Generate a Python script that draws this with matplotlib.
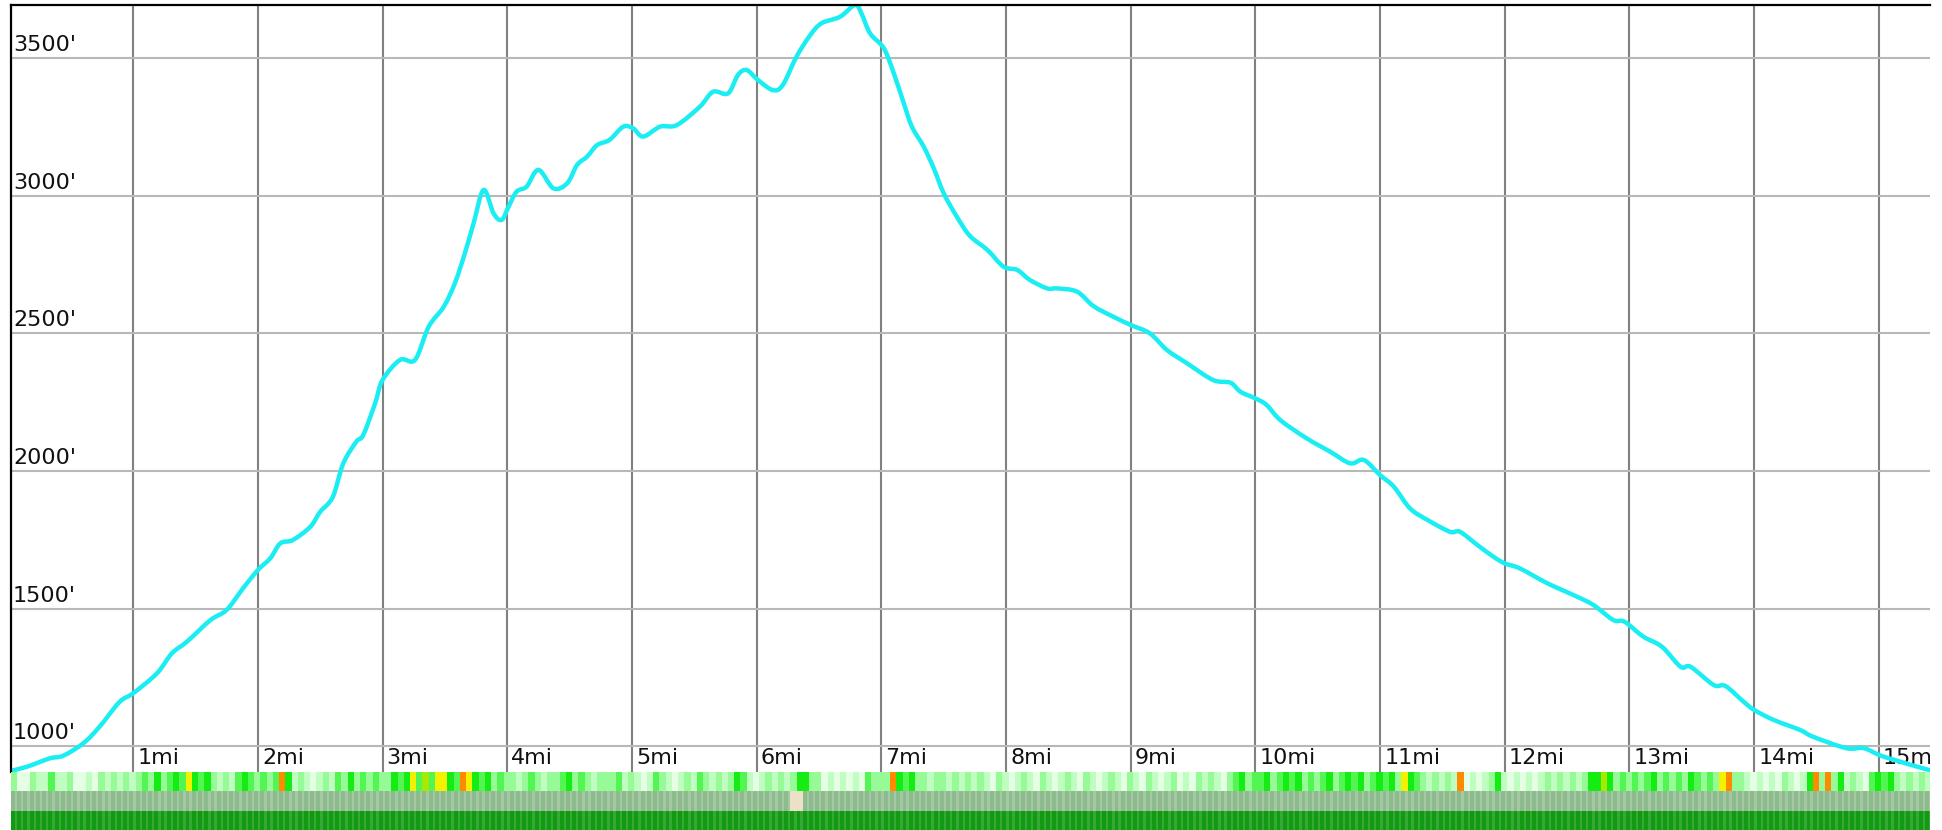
import numpy as np
import matplotlib
matplotlib.use("Agg")
import matplotlib.pyplot as plt
from matplotlib import transforms
from matplotlib.path import Path
from matplotlib.patches import PathPatch

# ---------------- data ----------------
miles = [0.02, 0.15, 0.33, 0.44, 0.60, 0.73, 0.89, 1.00, 1.19, 1.31, 1.43, 1.62, 1.75, 1.88,
         2.00, 2.10, 2.18, 2.28, 2.42, 2.50, 2.60, 2.685, 2.79, 2.845, 2.94, 3.00, 3.14, 3.26,
         3.37, 3.49, 3.58, 3.66, 3.73, 3.81, 3.89, 3.955, 4.01, 4.075, 4.155, 4.25, 4.37, 4.48,
         4.56, 4.64, 4.72, 4.82, 4.93, 5.01, 5.09, 5.225, 5.36, 5.545, 5.65, 5.77, 5.85, 5.92,
         6.01, 6.13, 6.21, 6.32, 6.43, 6.52, 6.67, 6.79, 6.84, 6.91, 7.02, 7.10, 7.18, 7.245,
         7.34, 7.42, 7.50, 7.605, 7.71, 7.85, 7.98, 8.09, 8.19, 8.33, 8.41, 8.57, 8.70, 8.86,
         9.00, 9.155, 9.29, 9.45, 9.66, 9.80, 9.88, 10.00, 10.09, 10.20, 10.41, 10.60, 10.76,
         10.87, 11.00, 11.11, 11.24, 11.38, 11.56, 11.64, 11.78, 11.91, 12.00, 12.12, 12.34,
         12.55, 12.71, 12.87, 12.96, 13.11, 13.26, 13.41, 13.49, 13.675, 13.77, 13.915, 14.00,
         14.155, 14.37, 14.47, 14.74, 14.88, 15.04, 15.40]
elev_ft = [910, 925, 955, 965, 1010, 1070, 1160, 1192, 1264, 1337, 1379, 1458, 1495, 1573,
           1640, 1683, 1737, 1749, 1797, 1852, 1905, 2028, 2107, 2131, 2246, 2331, 2404, 2404,
           2525, 2597, 2683, 2792, 2901, 3022, 2937, 2913, 2961, 3016, 3034, 3095, 3028, 3046,
           3113, 3143, 3185, 3204, 3252, 3246, 3216, 3252, 3258, 3325, 3379, 3373, 3440, 3458,
           3422, 3385, 3404, 3507, 3585, 3628, 3652, 3695, 3664, 3591, 3537, 3446, 3337, 3252,
           3179, 3101, 3010, 2925, 2855, 2804, 2743, 2731, 2695, 2664, 2664, 2652, 2600, 2561,
           2531, 2500, 2440, 2392, 2331, 2321, 2288, 2264, 2240, 2185, 2119, 2070, 2028,
           2040, 1985, 1943, 1864, 1822, 1779, 1779, 1731, 1688, 1664, 1646, 1592,
           1549, 1513, 1458, 1452, 1398, 1361, 1288, 1288, 1222, 1218, 1161, 1131,
           1095, 1058, 1034, 992, 992, 961, 913]

x_ticks = list(range(1, 16))
x_tick_labels = [f"{m}mi" for m in x_ticks]
y_ticks = [1000, 1500, 2000, 2500, 3000, 3500]
y_tick_labels = [f"{v}'" for v in y_ticks]

# colour-strip data: one code per 0.05 mi segment, one string per mile
seg_mi = 0.05
strip_start_mi = 0.02
row1_codes = [
    "lwwlppgpplwwpwlplplp",
    "lglGlgGgyGgGlplpgGgl",
    "glgoGplpwplpglGlglgl",
    "lGgGygcgyyGgoyGgGlgl",
    "lplglpllgGlglplllgpl",
    "pwpglpwplpglplplGgpw",
    "plplplGGllwpwpwpwgll",
    "loGgGllpllplplplpwlp",
    "wplpwlpwplpwlpwplpwl",
    "pwlpwplwpwlplpwlgGlg",
    "gGlgGgGlglgGlgGgGlgG",
    "gGlyGglplplpowpwplGp",
    "wpwpwplplplplGGcGlgl",
    "glgGlglglGglglyollpw",
    "pwpwlpwpGololGplpwgG",
    "gGlplplp",
]
row2_codes = "m" * 125 + "bb" + "m" * 181
row3_codes = "d" * 308

code_colors = {
    "w": "#e4ffe4", "p": "#c0fdc0", "l": "#96fa96", "g": "#52f552", "G": "#14ec14",
    "c": "#a6ea00", "y": "#f2f200", "o": "#ff8a00",
    "m": "#8dbb8d", "b": "#ebe1c6", "d": "#139a13",
}
seam_colors = {"row2": "#a3c8a3", "row3": "#36a836"}

# ---------------- figure ----------------
W, H = 1942, 830
fig = plt.figure(figsize=(W / 100, H / 100), dpi=100)
fig.patch.set_facecolor("white")

L_px, R_px, T_px, B_px = 11, 1930, 5, 772
ax = fig.add_axes([L_px / W, (H - B_px) / H, (R_px - L_px) / W, (B_px - T_px) / H])
ax.set_xlim(0.02, 15.41)
ax.set_ylim(905.5, 3694.5)
ax.set_xticks([])
ax.set_yticks([])
for s in ("right", "bottom"):
    ax.spines[s].set_visible(False)
for s in ("left", "top"):
    ax.spines[s].set_color("black")
    ax.spines[s].set_linewidth(1.6)
    ax.spines[s].set_zorder(5)

for t in x_ticks:
    ax.axvline(t, color="#808080", lw=1.5, zorder=1)
for v in y_ticks:
    ax.axhline(v, color="#b8b8b8", lw=1.5, zorder=1)

fs = 16
xlab_tr = transforms.offset_copy(ax.transData, fig=fig, x=4, y=8, units="dots")
for t, lab in zip(x_ticks, x_tick_labels):
    ax.text(t, 905.5, lab, transform=xlab_tr, fontsize=fs, color="#111111",
            ha="left", va="baseline", clip_on=True, zorder=3)
ylab_base = transforms.blended_transform_factory(ax.transAxes, ax.transData)
ylab_tr = transforms.offset_copy(ylab_base, fig=fig, x=2, y=7, units="dots")
for v, lab in zip(y_ticks, y_tick_labels):
    ax.text(0, v, lab, transform=ylab_tr, fontsize=fs, color="#111111",
            ha="left", va="baseline", clip_on=True, zorder=3)

# smooth curve through the read points (Catmull-Rom drawn as cubic Bezier)
xs = np.asarray(miles, float)
ys = np.asarray(elev_ft, float)
verts = [(xs[0], ys[0])]
codes = [Path.MOVETO]
n = len(xs)
for i in range(n - 1):
    p0 = np.array([xs[max(i - 1, 0)], ys[max(i - 1, 0)]])
    p1 = np.array([xs[i], ys[i]])
    p2 = np.array([xs[i + 1], ys[i + 1]])
    p3 = np.array([xs[min(i + 2, n - 1)], ys[min(i + 2, n - 1)]])
    c1 = p1 + (p2 - p0) / 6.0
    c2 = p2 - (p3 - p1) / 6.0
    verts += [tuple(c1), tuple(c2), tuple(p2)]
    codes += [Path.CURVE4] * 3
ax.add_patch(PathPatch(Path(verts, codes), fill=False, edgecolor="#1aeef2", lw=3.2,
                       joinstyle="round", capstyle="round", zorder=4))

# ---------------- strip ----------------
sx = fig.add_axes([L_px / W, 0, (R_px - L_px) / W, (H - B_px) / H])
sx.set_xlim(0.02, 15.41)
sx.set_ylim(0, 3)
sx.axis("off")

row1 = "".join(row1_codes)
nseg = len(row1)
seg_left = strip_start_mi + seg_mi * np.arange(nseg)

sx.bar(seg_left, 1, width=seg_mi, bottom=2, color=[code_colors[c] for c in row1],
       align="edge", linewidth=0)
# rows 2 and 3: segment blocks with a light seam between them
sx.bar(strip_start_mi, 1, width=seg_mi * nseg, bottom=1, color=seam_colors["row2"],
       align="edge", linewidth=0)
sx.bar(seg_left, 1, width=[seg_mi if c != "m" else seg_mi * 0.62 for c in row2_codes],
       bottom=1, color=[code_colors[c] for c in row2_codes], align="edge", linewidth=0)
sx.bar(strip_start_mi, 1, width=seg_mi * nseg, bottom=0, color=seam_colors["row3"],
       align="edge", linewidth=0)
sx.bar(seg_left, 1, width=seg_mi * 0.62, bottom=0, color=[code_colors[c] for c in row3_codes],
       align="edge", linewidth=0)

fig.savefig("out.png", dpi=100, facecolor="white")
